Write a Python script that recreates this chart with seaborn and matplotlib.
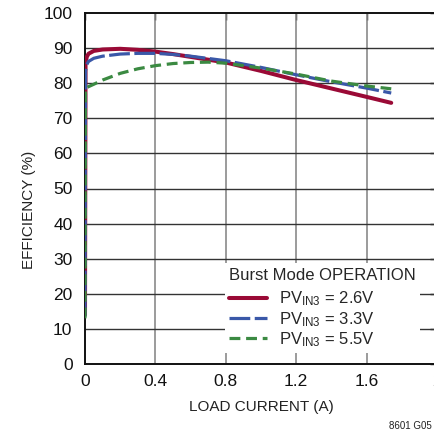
import numpy as np
import pandas as pd
import matplotlib
matplotlib.use("Agg")
import matplotlib.pyplot as plt
from matplotlib import font_manager
import seaborn as sns

# load current (A) and efficiency (%)
current_26 = [0.0, 0.003, 0.01, 0.02, 0.05, 0.1, 0.2, 0.3, 0.4, 0.5, 0.6, 0.8, 1.0, 1.2, 1.4, 1.6, 1.74]
eff_26 = [14.0, 85.5, 87.5, 88.4, 89.2, 89.6, 89.8, 89.5, 89.0, 88.3, 87.5, 85.9, 83.5, 80.9, 78.5, 76.1, 74.4]

current_33 = [0.0, 0.003, 0.01, 0.02, 0.05, 0.1, 0.2, 0.3, 0.4, 0.5, 0.6, 0.8, 1.0, 1.2, 1.4, 1.6, 1.74]
eff_33 = [13.5, 83.5, 85.3, 86.2, 87.1, 87.7, 88.3, 88.5, 88.5, 88.2, 87.7, 86.4, 84.5, 82.4, 80.4, 78.6, 77.2]

current_55 = [0.0, 0.002, 0.05, 0.1, 0.2, 0.3, 0.4, 0.5, 0.6, 0.7, 0.8, 1.0, 1.2, 1.4, 1.6, 1.74]
eff_55 = [13.0, 78.6, 79.7, 80.9, 82.8, 84.1, 85.0, 85.6, 85.9, 86.0, 85.7, 84.3, 82.6, 80.6, 79.2, 78.4]

legend_labels = ["PV$_{\\mathregular{IN3}}$ = 2.6V", "PV$_{\\mathregular{IN3}}$ = 3.3V", "PV$_{\\mathregular{IN3}}$ = 5.5V"]
x_ticks = [0, 0.4, 0.8, 1.2, 1.6, 2]
x_ticklabels = ["0", "0.4", "0.8", "1.2", "1.6", "2"]
y_ticks = list(range(0, 101, 10))

df = pd.concat([
    pd.DataFrame({"current": current_26, "eff": eff_26, "vin": "2.6V"}),
    pd.DataFrame({"current": current_33, "eff": eff_33, "vin": "3.3V"}),
    pd.DataFrame({"current": current_55, "eff": eff_55, "vin": "5.5V"}),
])

# pick a narrow font if there is one
installed = {f.name for f in font_manager.fontManager.ttflist}
narrow = "Liberation Sans Narrow" in installed
font = "Liberation Sans Narrow" if narrow else "Liberation Sans"

sns.set_style("white")
plt.rcParams["font.family"] = [font, "DejaVu Sans"]
plt.rcParams["mathtext.fontset"] = "custom"
plt.rcParams["mathtext.rm"] = font
plt.rcParams["mathtext.it"] = font

fig = plt.figure(figsize=(4.35, 4.34), dpi=100)
ax = fig.add_axes([85 / 435, 1 - 364 / 434, 352 / 435, (364 - 13) / 434])

palette = {"2.6V": "#9a0a36", "3.3V": "#3a58a8", "5.5V": "#3b8a42"}
dashes = {"2.6V": "", "3.3V": (6.5, 1.4), "5.5V": (3.4, 1.8)}
sns.lineplot(data=df, x="current", y="eff", hue="vin", style="vin",
             palette=palette, dashes=dashes, linewidth=2.3, sort=False,
             legend=False, ax=ax, zorder=3)
ax.lines[0].set_linewidth(2.9)

ax.set_xlim(0, 2)
ax.set_ylim(0, 100)
ax.set_xticks(x_ticks)
ax.set_xticklabels(x_ticklabels)
ax.set_yticks(y_ticks)

# grid: vertical lighter, horizontal darker
for xv in x_ticks[1:-1]:
    ax.axvline(xv, color="#8a8a8a", lw=1.2, zorder=1)
for yv in y_ticks[1:-1]:
    ax.axhline(yv, color="#333333", lw=1.0, zorder=1)

for s in ax.spines.values():
    s.set_color("#111111")
    s.set_linewidth(1.4)

tick_fs = 13 if narrow else 12.5
ax.tick_params(direction="in", length=5, width=1, colors="#111111",
               labelsize=tick_fs, top=True, right=True)
ax.tick_params(axis="x", pad=7)
ax.tick_params(axis="y", pad=9)
ax.set_xlabel("LOAD CURRENT (A)", fontsize=12 if narrow else 11, color="#222222", labelpad=8)
ax.set_ylabel("EFFICIENCY (%)", fontsize=12 if narrow else 11, color="#222222")
ax.yaxis.set_label_coords(-0.138, 0.44)

leg_fs = 13 if narrow else 12
leg = ax.legend(ax.lines[:3], legend_labels, title="Burst Mode OPERATION",
                loc="upper right", bbox_to_anchor=(0.975, (364 - 255) / 351),
                frameon=True, fancybox=False, framealpha=1, edgecolor="white",
                fontsize=leg_fs, title_fontsize=leg_fs, handlelength=2.3,
                handletextpad=0.7, labelspacing=0.1, borderpad=0.25)
leg.get_frame().set_linewidth(0)
leg.set_zorder(5)
leg._legend_box.align = "left"
leg._legend_box.sep = 5

fig.text(432 / 435, 1 - 426 / 434, "8601 G05", fontsize=8 if narrow else 7, ha="right",
         va="center", color="#222222")

fig.savefig("out.png", dpi=100)
